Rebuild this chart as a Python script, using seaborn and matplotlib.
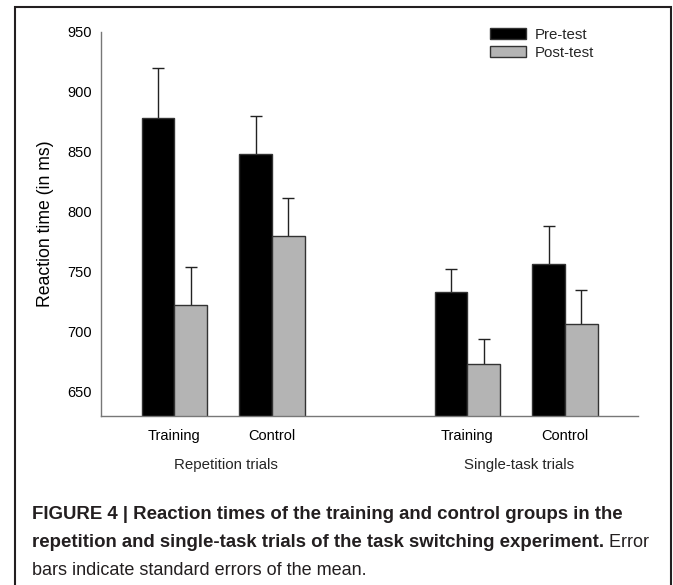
import matplotlib
matplotlib.use('Agg')
import matplotlib.pyplot as plt
import matplotlib.patches as mpatches
import pandas as pd
import seaborn as sns

# --- data ---
group_labels = ["Training", "Control", "Training", "Control"]
group_pos = [0, 1, 3, 4]
trial_labels = ["Repetition trials", "Single-task trials"]
test_labels = ["Pre-test", "Post-test"]
pre_rt = [878, 848, 733, 756]
post_rt = [722, 780, 673, 706]
pre_se = [42, 32, 19, 32]
post_se = [32, 31, 21, 29]
y_ticks = [650, 700, 750, 800, 850, 900, 950]

df = pd.DataFrame({
    "pos": group_pos * 2,
    "test": [test_labels[0]] * 4 + [test_labels[1]] * 4,
    "rt": pre_rt + post_rt,
})

sns.set_theme(style="white")
plt.rcParams['font.family'] = ['Liberation Sans', 'DejaVu Sans']

W, H = 673, 585
fig = plt.figure(figsize=(W / 100, H / 100), dpi=100)
ax = fig.add_axes([101 / W, 1 - 415.7 / H, (638.3 - 101) / W, (415.7 - 31.7) / H])

sns.barplot(data=df, x="pos", y="rt", hue="test", native_scale=True,
            width=0.667, palette=["#000000", "#b4b4b4"], edgecolor="#333333",
            linewidth=1, errorbar=None, ax=ax, zorder=2)

# one-sided look: error bars sit behind the bars
for cont, se in zip(ax.containers, [pre_se, post_se]):
    xs = [b.get_x() + b.get_width() / 2 for b in cont]
    ys = [b.get_height() for b in cont]
    ax.errorbar(xs, ys, yerr=se, fmt='none', ecolor="#222222", elinewidth=1,
                capsize=4.2, capthick=1, zorder=1)

ax.set_xlim(-0.75, 4.75)
ax.set_ylim(630, 950)
ax.set_yticks(y_ticks)
ax.set_xticks(group_pos)
ax.set_xticklabels(group_labels)
ax.tick_params(axis='both', length=0, labelsize=10.5, colors='black')
ax.tick_params(axis='x', pad=9.5)
ax.tick_params(axis='y', pad=6.5)
ax.set_xlabel("")
ax.set_ylabel("Reaction time (in ms)", fontsize=12.7, color='black')
ax.yaxis.set_label_coords(-0.088, 0.5)

for s in ["top", "right"]:
    ax.spines[s].set_visible(False)
for s in ["left", "bottom"]:
    ax.spines[s].set_color("#777777")
    ax.spines[s].set_linewidth(1.0)

# trial-type labels under each pair of groups
trial_x = [(group_pos[0] + group_pos[1]) / 2, (group_pos[2] + group_pos[3]) / 2]
for tx, lab in zip(trial_x, trial_labels):
    ax.text(tx + 0.03, -0.129, lab, transform=ax.get_xaxis_transform(),
            ha='center', va='center', fontsize=10.8)

handles, labels = ax.get_legend_handles_labels()
ax.legend(handles, labels, loc='upper left', bbox_to_anchor=(0.724, 1.01),
          frameon=False, fontsize=10.8, handlelength=2.4, handleheight=0.75,
          handletextpad=0.6, labelspacing=0.25, borderpad=0, borderaxespad=0)

# caption
x0 = 32 / W
bold_narrow = ['Liberation Sans Narrow', 'Liberation Sans', 'DejaVu Sans']
fig.text(x0, 1 - 519 / H,
         "FIGURE 4 | Reaction times of the training and control groups in the",
         fontsize=13.4, fontweight='bold', family=bold_narrow, color='#231f20',
         va='baseline')
t2 = fig.text(x0, 1 - 547 / H,
              "repetition and single-task trials of the task switching experiment.",
              fontsize=13.4, fontweight='bold', family=bold_narrow, color='#231f20',
              va='baseline')
ax.annotate(" Error", xy=(1, 0), xycoords=t2, xytext=(0, 0), textcoords='offset points',
            fontsize=13, color='#231f20', va='bottom', ha='left', annotation_clip=False)
fig.text(x0, 1 - 575 / H, "bars indicate standard errors of the mean.",
         fontsize=13, color='#231f20', va='baseline')

# outer frame
fig.patches.append(mpatches.Rectangle((15 / W, -0.05), (671 - 15) / W, 1 - 7.3 / H + 0.05,
                                      transform=fig.transFigure, fill=False,
                                      edgecolor='#231f20', linewidth=1.5))

fig.savefig("out.png", dpi=100)
